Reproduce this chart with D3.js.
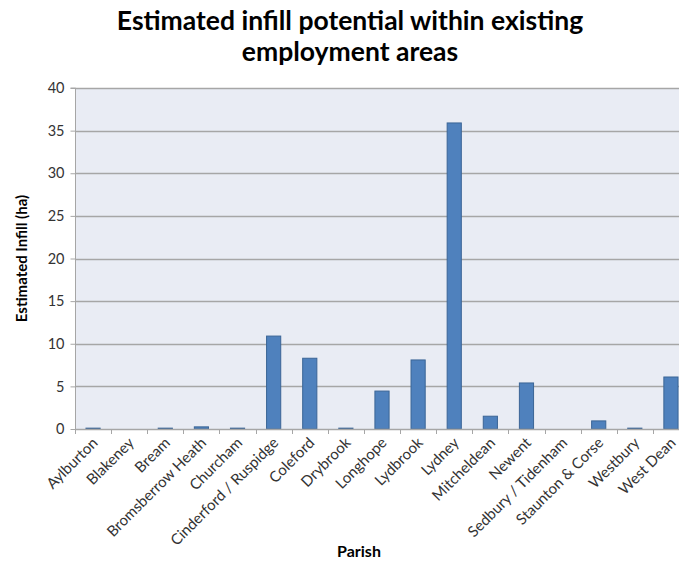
<!DOCTYPE html>
<html>
<head>
<meta charset="utf-8">
<script src="https://cdn.jsdelivr.net/npm/d3@7"></script>
<style>
  html, body { margin: 0; padding: 0; background: #fff; }
  svg { display: block; }
  text { font-family: Lato, "Liberation Sans", sans-serif; }
</style>
</head>
<body>
<svg id="chart" width="679" height="564"></svg>
<script>
// Parishes and estimated infill (hectares)
const parishes = [
  "Aylburton", "Blakeney", "Bream", "Bromsberrow Heath", "Churcham",
  "Cinderford / Ruspidge", "Coleford", "Drybrook", "Longhope", "Lydbrook",
  "Lydney", "Mitcheldean", "Newent", "Sedbury / Tidenham", "Staunton & Corse",
  "Westbury", "West Dean"
];
const infill = [0.1, 0, 0.1, 0.25, 0.1, 10.9, 8.3, 0.1, 4.45, 8.1, 35.9, 1.5, 5.4, 0, 0.95, 0.1, 6.1];
const yTicks = [0, 5, 10, 15, 20, 25, 30, 35, 40];

const svg = d3.select("#chart");
const plot = { left: 75, top: 88, right: 689, bottom: 429 };

const x = d3.scaleBand().domain(parishes).range([plot.left, plot.right]).paddingInner(0.58).paddingOuter(0.29);
const band = d3.scaleBand().domain(parishes).range([plot.left, plot.right]);
const y = d3.scaleLinear().domain([0, 40]).range([plot.bottom, plot.top]);

// plot background
svg.append("rect")
  .attr("x", plot.left).attr("y", plot.top)
  .attr("width", plot.right - plot.left).attr("height", plot.bottom - plot.top)
  .attr("fill", "#E9ECF4");

// horizontal gridlines
svg.append("g").selectAll("line").data(yTicks.filter(d => d > 0)).join("line")
  .attr("x1", plot.left).attr("x2", plot.right)
  .attr("y1", d => Math.round(y(d)) + 0.5).attr("y2", d => Math.round(y(d)) + 0.5)
  .attr("stroke", "#A6A6A6").attr("stroke-width", 1.3);

// bars
svg.append("g").selectAll("rect").data(parishes).join("rect")
  .attr("x", (d, i) => x(d) + 0.5)
  .attr("y", (d, i) => y(infill[i]))
  .attr("width", x.bandwidth() - 1)
  .attr("height", (d, i) => plot.bottom - y(infill[i]))
  .attr("fill", "#4F81BD")
  .attr("stroke", (d, i) => infill[i] > 0 ? "#3B6596" : "none")
  .attr("stroke-width", 1);

// y axis
const yAxis = svg.append("g")
  .attr("transform", `translate(${plot.left + 0.5},0)`)
  .call(d3.axisLeft(y).tickValues(yTicks).tickSize(5).tickPadding(6));
yAxis.select(".domain").attr("stroke", "#A6A6A6").attr("d", `M-5,${y(40)}H0V${plot.bottom}`);
yAxis.selectAll(".tick line").attr("stroke", "#A6A6A6");
yAxis.selectAll(".tick text")
  .attr("font-size", 14.5).attr("fill", "#333")
  .style("font-family", "Lato, 'Liberation Sans', sans-serif");

// x axis: ticks at band boundaries
const bounds = parishes.map(p => band(p)).concat([plot.right]);
const xg = svg.append("g");
xg.append("line")
  .attr("x1", plot.left).attr("x2", plot.right)
  .attr("y1", plot.bottom + 0.5).attr("y2", plot.bottom + 0.5)
  .attr("stroke", "#A6A6A6").attr("stroke-width", 1.3);
xg.selectAll("line.tk").data(bounds).join("line").attr("class", "tk")
  .attr("x1", d => Math.round(d) + 0.5).attr("x2", d => Math.round(d) + 0.5)
  .attr("y1", plot.bottom).attr("y2", plot.bottom + 5)
  .attr("stroke", "#A6A6A6");

// category labels, rotated
xg.selectAll("text").data(parishes).join("text")
  .attr("transform", d => `translate(${band(d) + band.bandwidth() / 2 + 2},${plot.bottom + 11}) rotate(-45)`)
  .attr("text-anchor", "end")
  .attr("dy", "0.35em")
  .attr("font-size", 15)
  .attr("fill", "#333")
  .text(d => d);

// axis titles
svg.append("text")
  .attr("transform", `translate(27,${(plot.top + plot.bottom) / 2}) rotate(-90)`)
  .attr("text-anchor", "middle")
  .attr("font-size", 15).attr("font-weight", "bold").attr("fill", "#000")
  .text("Estimated Infill (ha)");

svg.append("text")
  .attr("x", 359).attr("y", 557)
  .attr("text-anchor", "middle")
  .attr("font-size", 16).attr("font-weight", "bold").attr("fill", "#000")
  .text("Parish");

// chart title
const title = svg.append("text")
  .attr("text-anchor", "middle")
  .attr("font-size", 26.5).attr("font-weight", "bold").attr("fill", "#000");
title.append("tspan").attr("x", 350).attr("y", 30).text("Estimated infill potential within existing");
title.append("tspan").attr("x", 350).attr("y", 61).text("employment areas");
</script>
</body>
</html>
